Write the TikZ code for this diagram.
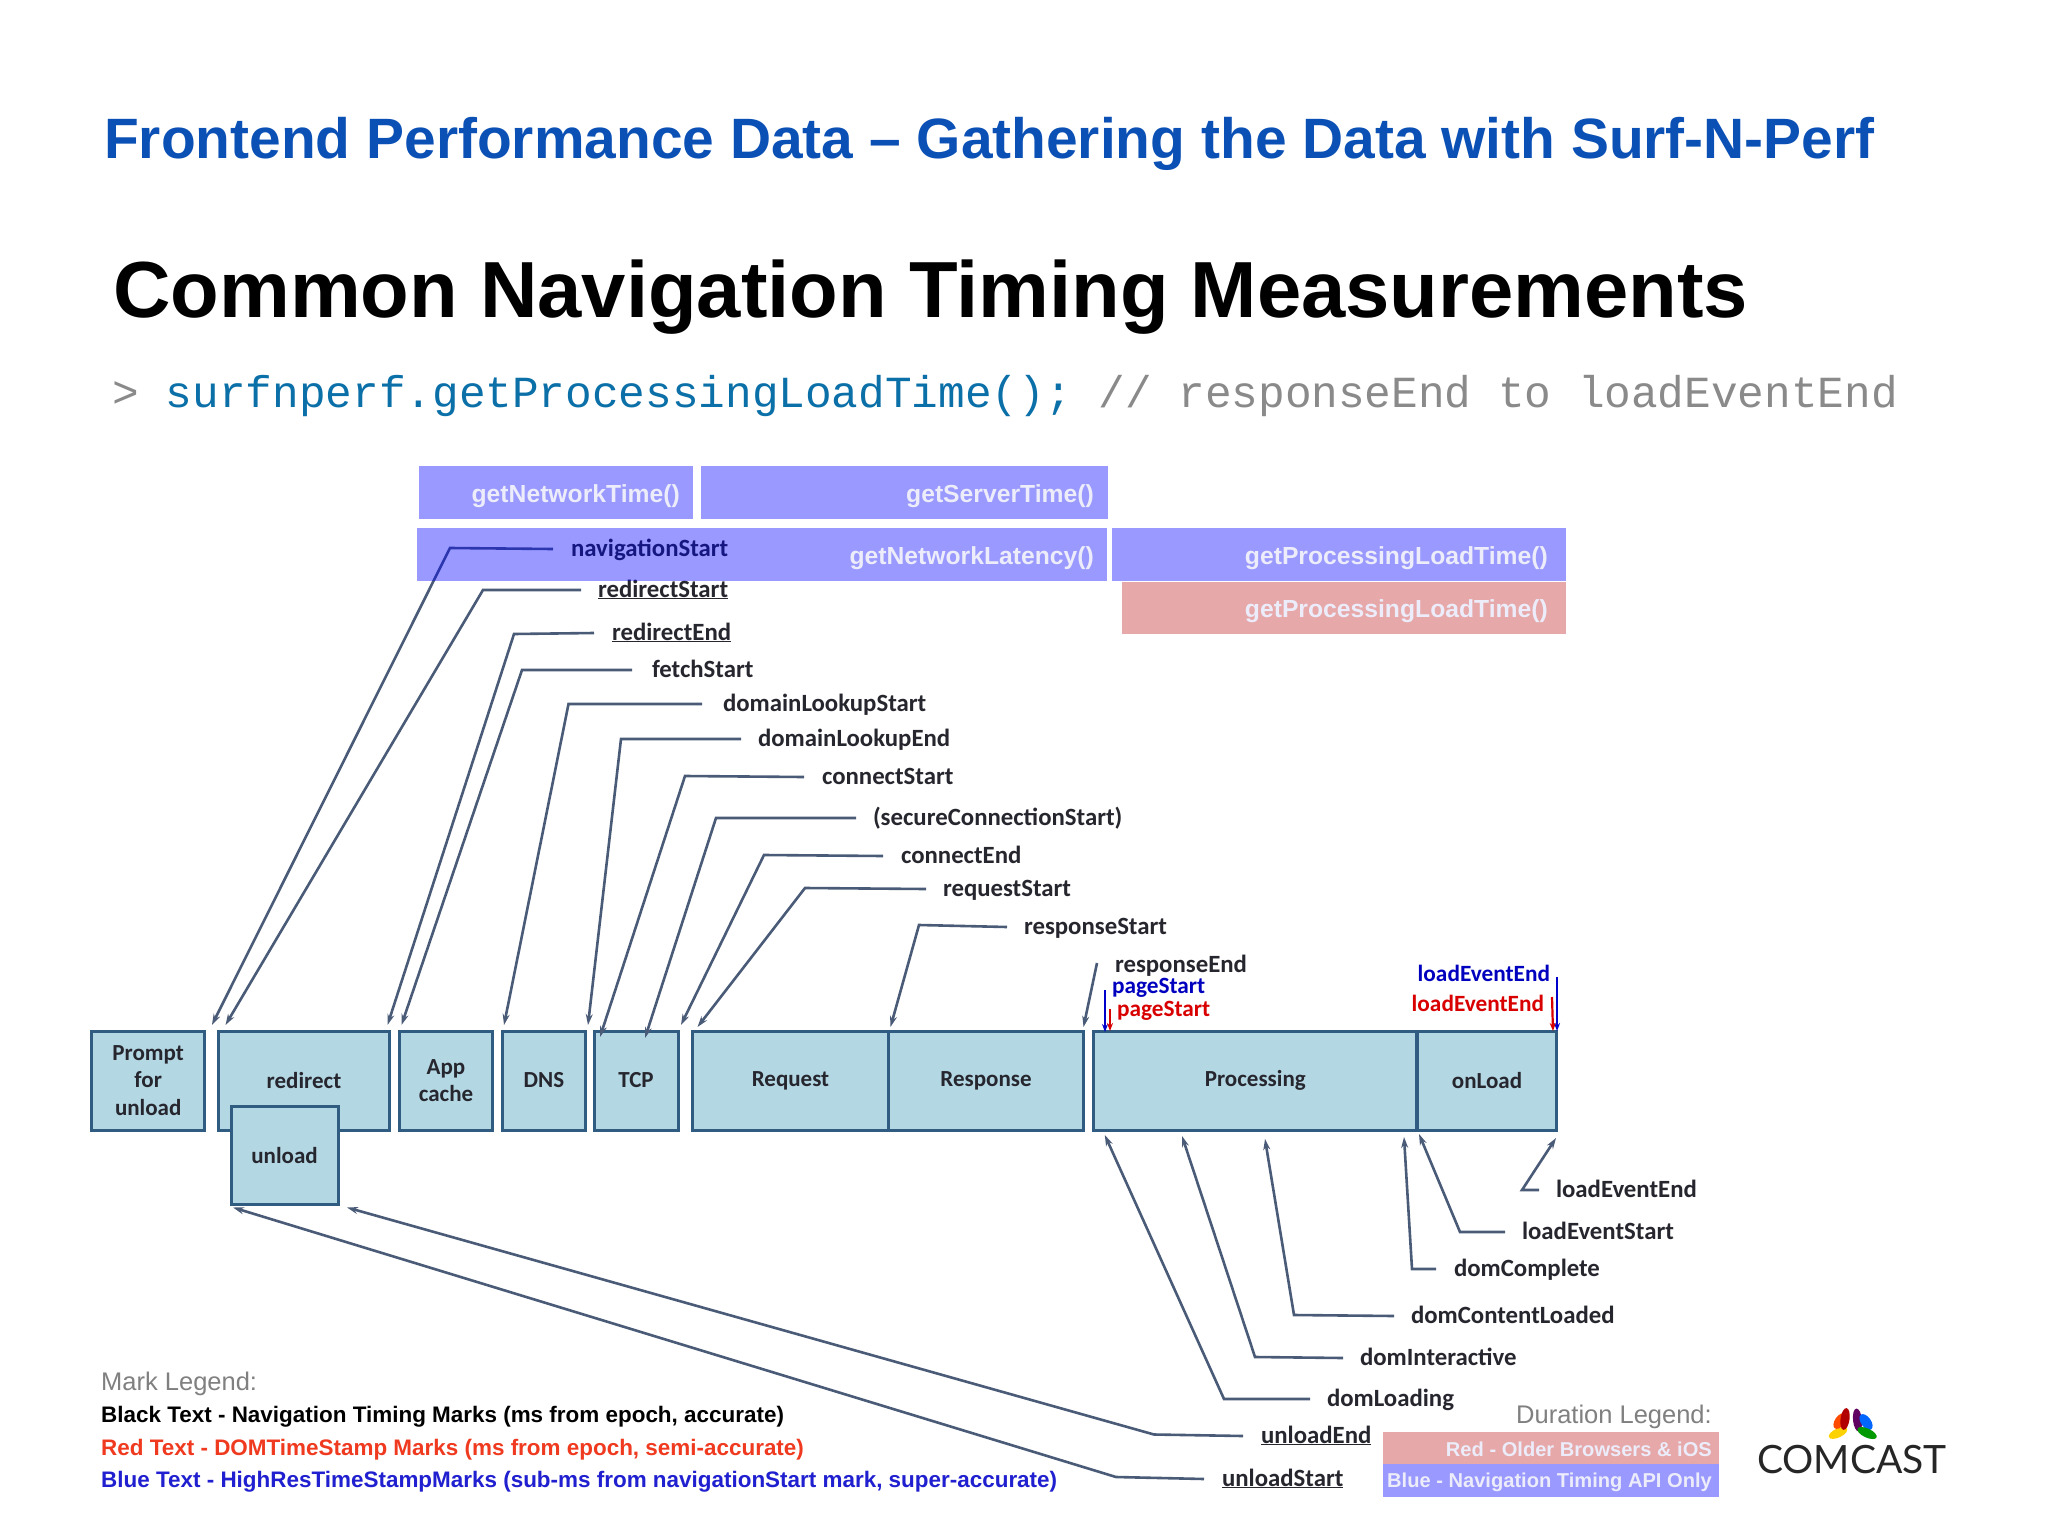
\documentclass[tikz,border=0pt]{standalone}
\usepackage{fontspec}
\usepackage{tikz}
\usetikzlibrary{arrows.meta}
\setmainfont{Carlito}
\newfontfamily\arialf{Liberation Sans}
\newfontfamily\monof{Liberation Mono}
\newfontfamily\logof{Lato}
\definecolor{boxfill}{HTML}{B4D7E4}
\definecolor{boxline}{HTML}{2F5C80}
\definecolor{connc}{HTML}{4A5B78}
\definecolor{durred}{HTML}{E6A8A8}
\definecolor{durblue}{HTML}{9999FF}
\definecolor{titleblue}{HTML}{0B50B5}
\definecolor{codeblue}{HTML}{0B6FA8}
\definecolor{codegray}{HTML}{8A8A8A}
\definecolor{softwhite}{HTML}{ECECFA}
\definecolor{labtext}{HTML}{26262E}
\definecolor{legred}{HTML}{F03A20}
\definecolor{legblue}{HTML}{2020D0}
\tikzset{
 stage/.style={draw=boxline,fill=boxfill,line width=3pt,inner sep=0pt,outer sep=0pt,align=center,text=labtext,font=\fontsize{23}{27.5}\selectfont\bfseries},
 tlabel/.style={anchor=west,inner sep=0pt,outer sep=0pt,text height=17pt,text depth=3pt,text=labtext,font=\fontsize{24.8}{24}\selectfont\bfseries},
 redmark/.style={tlabel,text=red!85!black,font=\fontsize{23.3}{24}\selectfont\bfseries},
 bluemark/.style={tlabel,text=blue!75!black,font=\fontsize{23.3}{24}\selectfont\bfseries},
 conn/.style={draw=connc,line width=2.6pt,line join=miter,-{Stealth[length=11pt,width=7pt]}},
 tick/.style={line width=2.2pt,-{Stealth[length=8pt,width=6pt]}},
 durtext/.style={anchor=east,inner sep=0pt,text=softwhite,font=\fontsize{24.7}{24}\arialf\bfseries},
 legendline/.style={anchor=west,inner sep=0pt,font=\fontsize{22.45}{24}\arialf\bfseries},
 smalldur/.style={anchor=east,inner sep=0pt,text=softwhite,font=\fontsize{20.1}{20}\arialf\bfseries},
}
\begin{document}
\begin{tikzpicture}[x=1pt,y=-1pt]
\useasboundingbox (0,0) rectangle (2048,1536);
\fill[white] (0,0) rectangle (2048,1536);
% headings
\node[anchor=west,inner sep=0pt,text=titleblue,font=\fontsize{56.9}{60}\arialf\bfseries] (title) at (104,143.5) {Frontend Performance Data – Gathering the Data with Surf-N-Perf};
\node[anchor=west,inner sep=0pt,text=black,font=\fontsize{79.6}{84}\arialf\bfseries] (head) at (113,297) {Common Navigation Timing Measurements};
\node[anchor=west,inner sep=0pt,font=\fontsize{44.4}{46}\monof] (code) at (112.5,396.5) {\textcolor{codegray}{> }\textcolor{codeblue}{surfnperf.getProcessingLoadTime();} \textcolor{codegray}{// responseEnd to loadEventEnd}};
% stage boxes
\node[stage,minimum width=113.5pt,minimum height=99pt] (prompt) at (148.2,1080.5) {Prompt\\for\\unload};
\node[stage,minimum width=171pt,minimum height=99pt] (redirect) at (304,1080.5) {redirect};
\node[stage,minimum width=93pt,minimum height=99pt] (app) at (446,1080.5) {App\\cache};
\node[stage,minimum width=83pt,minimum height=99pt] (dns) at (544,1080.5) {DNS};
\node[stage,minimum width=84pt,minimum height=99pt] (tcp) at (636,1080.5) {TCP};
\node[stage,minimum width=196pt,minimum height=99pt] (request) at (790.5,1080.5) {Request};
\node[stage,minimum width=195pt,minimum height=99pt] (response) at (986,1080.5) {Response};
\node[stage,minimum width=323pt,minimum height=99pt] (processing) at (1255.3,1080.5) {Processing};
\node[stage,minimum width=139pt,minimum height=99pt] (onload) at (1487,1080.5) {onLoad};
\node[stage,minimum width=107pt,minimum height=98pt] (unload) at (284.5,1155.5) {unload};
% marks above the bar
\node[tlabel] (navS) at (571,549) {navigationStart};
\node[tlabel] (redS) at (598,590) {\underline{redirectStart}};
\node[tlabel] (redE) at (612,633) {\underline{redirectEnd}};
\node[tlabel] (fetS) at (652,670) {fetchStart};
\node[tlabel] (dlS) at (723,704) {domainLookupStart};
\node[tlabel] (dlE) at (758,739) {domainLookupEnd};
\node[tlabel] (conS) at (822,777) {connectStart};
\node[tlabel] (secS) at (873,818) {(secureConnectionStart)};
\node[tlabel] (conE) at (901,856) {connectEnd};
\node[tlabel] (reqS) at (943,889) {requestStart};
\node[tlabel] (resS) at (1024,927) {responseStart};
\node[tlabel] (resE) at (1115,965) {responseEnd};
\node[bluemark] (pgB) at (1112,986) {pageStart};
\node[redmark] (pgR) at (1117,1009) {pageStart};
\node[bluemark,anchor=east] (leB) at (1550,974) {loadEventEnd};
\node[redmark,anchor=east] (leR) at (1544,1004) {loadEventEnd};
% marks below the bar
\node[tlabel] (leE) at (1556,1190) {loadEventEnd};
\node[tlabel] (leS) at (1522,1232) {loadEventStart};
\node[tlabel] (dC) at (1454,1269) {domComplete};
\node[tlabel] (dCL) at (1411,1316) {domContentLoaded};
\node[tlabel] (dI) at (1360,1358) {domInteractive};
\node[tlabel] (dL) at (1327,1399) {domLoading};
\node[tlabel] (uE) at (1261,1436) {\underline{unloadEnd}};
\node[tlabel] (uS) at (1222,1479) {\underline{unloadStart}};
% connectors
\draw[conn] ([xshift=-18pt]navS.west) -- (450,548) -- ([shift={(7,-6)}]prompt.north east);
\draw[conn] ([xshift=-17pt]redS.west) -- (483,590) -- ([shift={(7,-6)}]redirect.north west);
\draw[conn] ([xshift=-18pt]redE.west) -- (514,634) -- ([shift={(-2,-6)}]redirect.north east);
\draw[conn] ([xshift=-20pt]fetS.west) -- (522,670) -- ([shift={(2,-6)}]app.north west);
\draw[conn] ([xshift=-21pt]dlS.west) -- (568.5,704) -- ([shift={(1.5,-6)}]dns.north west);
\draw[conn] ([xshift=-17pt]dlE.west) -- (621,739) -- ([shift={(2.5,-6)}]dns.north east);
\draw[conn] ([xshift=-18pt]conS.west) -- (685,776) -- ([shift={(6,6)}]tcp.north west);
\draw[conn] ([xshift=-17pt]secS.west) -- (716,818) -- ([xshift=9pt,yshift=-7pt]tcp.north);
\draw[conn] ([xshift=-18pt]conE.west) -- (764,855) -- ([shift={(3,-6)}]tcp.north east);
\draw[conn] ([xshift=-17pt]reqS.west) -- (805,888) -- ([shift={(5,-4)}]request.north west);
\draw[conn] ([xshift=-17pt]resS.west) -- (919,925) -- ([shift={(2,-4)}]response.north west);
\coordinate (resEtop) at (1097,963);
\draw[conn] (resEtop) -- ([shift={(0,-4)}]response.north east);
\draw[conn] ([xshift=-17pt]leE.west) -- (1522,1190) -- ([shift={(-0.5,8)}]onload.south east);
\draw[conn] ([xshift=-17pt]leS.west) -- (1460,1232) -- ([shift={(1.5,4)}]onload.south west);
\draw[conn] ([xshift=-18pt]dC.west) -- (1412,1269) -- ([shift={(-13.5,7)}]onload.south west);
\draw[conn] ([xshift=-17pt]dCL.west) -- (1294,1315) -- ([xshift=9.7pt,yshift=-9pt]processing.south);
\draw[conn] ([xshift=-17pt]dI.west) -- (1255,1357) -- ([xshift=-73.3pt,yshift=-6pt]processing.south);
\draw[conn] ([xshift=-17pt]dL.west) -- (1224,1399) -- ([shift={(11,5)}]processing.south west);
\draw[conn] ([xshift=-18pt]uE.west) -- (1154,1434.5) -- ([shift={(9,3)}]unload.south east);
\draw[conn] ([xshift=-18pt]uS.west) -- (1116,1477) -- ([shift={(2,3)}]unload.south west);
% coloured ticks
\coordinate (pgBtop) at (1105,990);
\coordinate (pgRtop) at (1110,1009);
\coordinate (leBtop) at (1557,977);
\coordinate (leRtop) at (1552,997);
\draw[tick,draw=blue!80!black] (pgBtop) -- (1105,1032);
\draw[tick,draw=red!85!black] (pgRtop) -- (1110,1031);
\draw[tick,draw=blue!80!black] (leBtop) -- (1557,1031);
\draw[tick,draw=red!85!black] (leRtop) -- (1553,1031);
% duration bars
\path[fill=blue,opacity=.4] (419,466) rectangle (693,519);
\path[fill=blue,opacity=.4] (701,466) rectangle (1108,519);
\path[fill=blue,opacity=.4] (417,528) rectangle (1107,581);
\path[fill=blue,opacity=.4] (1112,528) rectangle (1566,581);
\fill[durred] (1122,582) rectangle (1566,634);
\node[durtext] (bNet) at (680,496) {getNetworkTime()};
\node[durtext] (bSrv) at (1094,496) {getServerTime()};
\node[durtext] (bLat) at (1094,558) {getNetworkLatency()};
\node[durtext] (bPro) at (1548,558) {getProcessingLoadTime()};
\node[durtext] (rPro) at (1548,611) {getProcessingLoadTime()};
% legends
\node[anchor=west,inner sep=0pt,text=gray,font=\fontsize{25.5}{26}\arialf] (lg0) at (101,1384) {Mark Legend:};
\node[legendline,text=black] (lg1) at (101,1417) {Black Text - Navigation Timing Marks (ms from epoch, accurate)};
\node[legendline,text=legred] (lg2) at (101,1450) {Red Text - DOMTimeStamp Marks (ms from epoch, semi-accurate)};
\node[legendline,text=legblue] (lg3) at (101,1482) {Blue Text - HighResTimeStampMarks (sub-ms from navigationStart mark, super-accurate)};
\node[anchor=east,inner sep=0pt,text=gray,font=\fontsize{25.5}{26}\arialf] (dl0) at (1712,1417) {Duration Legend:};
\fill[durred] (1383,1432) rectangle (1719,1464);
\fill[durblue] (1383,1464) rectangle (1719,1497);
\node[smalldur] (dl1) at (1712,1449) {Red - Older Browsers \& iOS};
\node[smalldur] (dl2) at (1712,1482) {Blue - Navigation Timing API Only};
% logo
\fill[yellow!70!orange,rotate around={-65:(1838,1433)}] (1838,1433) ellipse [x radius=4.5,y radius=10];
\fill[orange!60!red,rotate around={-35:(1840,1421)}] (1840,1421) ellipse [x radius=5,y radius=9];
\fill[red!70!black,rotate around={-8:(1845,1419)}] (1845,1419) ellipse [x radius=4.5,y radius=11];
\fill[violet!75!black,rotate around={6:(1857.5,1420)}] (1857.5,1420) ellipse [x radius=4.5,y radius=11.5];
\fill[blue!60!cyan,rotate around={35:(1866,1422)}] (1866,1422) ellipse [x radius=5,y radius=9];
\fill[green!60!black,rotate around={65:(1867,1433)}] (1867,1433) ellipse [x radius=4.5,y radius=10.5];
\node[anchor=center,inner sep=0pt,text=black!85,font=\fontsize{39}{39}\logof] (comcast) at (1852,1460) {COMCAST};
\end{tikzpicture}
\end{document}
